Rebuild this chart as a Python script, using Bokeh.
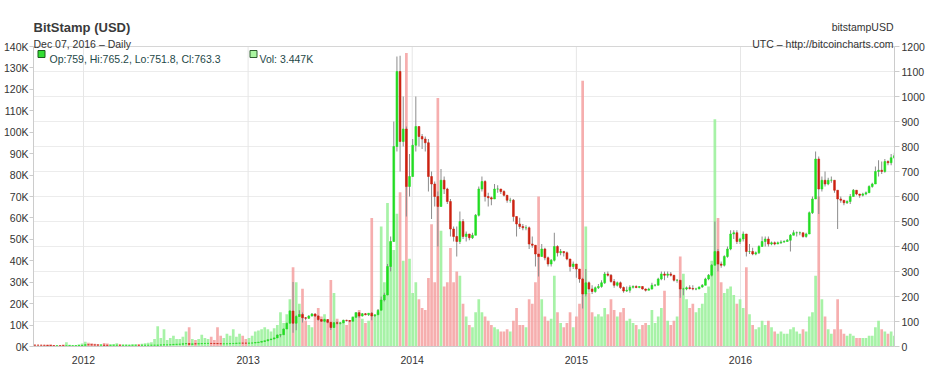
import pandas as pd
from bokeh.plotting import figure
from bokeh.models import Range1d, LinearAxis, FixedTicker, Label, ColumnDataSource, Span
from bokeh.embed import file_html
from bokeh.resources import INLINE

# ---------------- data (weekly) ----------------
first_week = "2011-09-12"
first_open = 5.8

close_2011 = [5.5, 5.3, 5.1, 4.9, 4.1, 3.3, 3.2, 3.3, 3.0, 2.3, 2.5, 2.9, 3.0, 3.2, 3.9, 4.7]
high_2011 = [6.0, 5.8, 5.4, 5.2, 5.0, 4.2, 3.6, 3.6, 3.3, 3.0, 2.7, 3.1, 3.2, 3.3, 4.0, 4.8]
low_2011 = [5.0, 4.9, 4.7, 4.6, 3.9, 2.9, 2.9, 3.0, 2.8, 2.1, 2.2, 2.5, 2.8, 3.0, 3.2, 3.9]
vol_2011 = [0.3, 0.4, 0.5, 0.6, 0.8, 1.0, 0.7, 0.5, 0.6, 0.9, 2.0, 0.8, 0.6, 0.7, 1.0, 1.4]

close_2012 = [6.9, 6.6, 6.3, 6.1, 5.6, 5.7, 4.9, 4.6, 4.9, 5.0, 5.2, 4.8, 4.9,
              4.9, 4.9, 5.0, 5.1, 5.0, 5.0, 5.0, 5.1, 5.2, 5.4, 5.7, 6.3, 6.6,
              6.7, 7.4, 8.5, 8.9, 9.4, 10.9, 11.6, 8.6, 10.6, 10.5, 11.1, 12.0, 12.2,
              12.4, 11.9, 11.7, 11.4, 10.8, 10.9, 11.1, 11.7, 12.3, 13.2, 13.5, 13.4, 13.3]
high_2012 = [7.2, 7.2, 6.9, 6.4, 6.2, 6.0, 5.8, 5.0, 5.0, 5.1, 5.5, 5.3, 5.0,
             5.0, 5.0, 5.1, 5.2, 5.1, 5.1, 5.1, 5.2, 5.3, 5.5, 5.9, 6.5, 6.8,
             6.8, 7.6, 8.9, 9.1, 9.6, 11.2, 13.5, 12.0, 10.8, 11.0, 11.3, 12.4, 12.5,
             12.8, 12.5, 12.0, 11.8, 11.5, 11.0, 11.3, 11.8, 12.5, 13.5, 13.8, 13.7, 13.6]
low_2012 = [4.8, 6.1, 5.9, 5.5, 5.4, 5.4, 4.4, 4.3, 4.6, 4.8, 4.9, 4.7, 4.7,
            4.8, 4.8, 4.9, 4.9, 4.9, 4.9, 4.9, 5.0, 5.1, 5.2, 5.4, 5.7, 6.2,
            6.5, 6.6, 7.3, 8.4, 8.6, 9.4, 10.8, 7.5, 8.5, 10.0, 10.4, 11.0, 11.9,
            12.0, 11.6, 11.5, 11.0, 10.4, 10.6, 10.8, 11.0, 11.7, 12.5, 13.0, 13.0, 13.1]
vol_2012 = [2.2, 1.8, 1.5, 1.3, 1.2, 1.0, 1.6, 1.4, 1.0, 1.2, 1.5, 1.1, 0.9,
            0.9, 0.8, 1.0, 1.1, 1.0, 1.3, 1.5, 1.8, 2.0, 3.5, 9.5, 4.0, 8.0,
            3.0, 4.0, 5.0, 3.5, 3.5, 4.5, 7.0, 9.0, 3.5, 3.0, 3.5, 5.5, 4.0,
            3.5, 4.5, 3.0, 9.0, 5.0, 4.0, 6.0, 5.0, 8.0, 4.5, 6.0, 5.0, 3.5]

close_2013 = [13.6, 14.2, 15.6, 17.5, 20.4, 22.7, 27.3, 30.0, 34.5, 46.0, 46.9, 70.0, 93.0,
              142, 93, 120, 128, 115, 113, 122, 130, 122, 108, 101, 108, 97,
              76, 95, 93, 95, 105, 104, 101, 117, 135, 122, 131, 127, 133, 122,
              127, 145, 186, 206, 320, 420, 800, 1100, 820, 870, 640, 680, 805]
high_2013 = [13.8, 14.5, 16.0, 18.0, 20.8, 23.0, 27.6, 30.5, 35.0, 48.0, 48.5, 72.0, 95.0,
             145, 258, 125, 145, 136, 118, 125, 134, 133, 125, 110, 111, 108,
             97, 98, 100, 97, 107, 107, 106, 119, 137, 138, 134, 134, 134, 138,
             128, 150, 200, 215, 330, 440, 900, 1160, 1163, 1000, 880, 770, 830]
low_2013 = [13.2, 13.5, 14.0, 15.5, 17.4, 19.8, 22.6, 26.5, 29.5, 34.0, 37.0, 47.0, 70.0,
            93, 55, 65, 118, 96, 105, 110, 120, 118, 103, 99, 97, 93,
            66, 75, 88, 88, 93, 100, 97, 100, 115, 115, 120, 125, 122, 105,
            118, 127, 145, 180, 205, 300, 460, 780, 700, 800, 520, 600, 680]
vol_2013 = [4.0, 5.0, 7.0, 7.5, 8.0, 9.0, 8.0, 7.0, 8.5, 10.0, 16.0, 11.0, 15.0,
            22, 37, 30, 20, 27, 12, 10, 9, 15, 18, 14, 15, 12,
            31, 25, 13, 11, 12, 10, 12, 14, 16, 17, 13, 11, 12, 60,
            14, 16, 56, 30, 67, 49, 45, 62, 72, 40, 137, 41, 25]

close_2014 = [880, 840, 830, 815, 680, 650, 600, 560, 665, 630, 580, 470, 440,
              420, 500, 440, 450, 435, 445, 525, 630, 660, 600, 595, 590, 630,
              630, 620, 605, 585, 585, 520, 490, 480, 475, 475, 410, 405, 370,
              360, 390, 355, 330, 345, 400, 375, 380, 375, 350, 320, 330, 310]
high_2014 = [1000, 880, 850, 840, 830, 700, 660, 620, 710, 680, 635, 590, 480,
             480, 540, 510, 460, 450, 455, 530, 640, 680, 665, 615, 600, 650,
             645, 630, 625, 600, 595, 590, 520, 515, 490, 485, 480, 440, 395,
             370, 410, 395, 360, 350, 455, 405, 390, 380, 380, 350, 340, 330]
low_2014 = [780, 800, 790, 780, 620, 510, 560, 400, 560, 610, 570, 440, 420,
            360, 410, 430, 420, 425, 430, 445, 520, 620, 580, 560, 565, 590,
            615, 610, 600, 575, 575, 500, 440, 470, 465, 465, 390, 395, 320,
            280, 360, 345, 320, 320, 340, 360, 365, 360, 345, 300, 310, 275]
vol_2014 = [30, 22, 18, 17, 32, 57, 30, 116, 54, 28, 30, 46, 30,
            35, 33, 20, 14, 10, 9, 16, 22, 16, 14, 12, 10, 9,
            8, 7, 7, 8, 7, 12, 18, 10, 10, 9, 22, 20, 30,
            70, 22, 14, 12, 13, 33, 16, 11, 9, 11, 16, 9, 14]

close_2015 = [270, 210, 255, 230, 220, 235, 240, 255, 290, 285, 260, 245, 255,
              236, 222, 225, 237, 240, 236, 240, 230, 225, 230, 245, 245, 270,
              290, 285, 290, 285, 265, 265, 230, 230, 235, 232, 230, 230, 238,
              245, 270, 285, 325, 380, 330, 325, 360, 390, 450, 455, 420, 430]
high_2015 = [300, 275, 310, 260, 245, 240, 250, 265, 298, 300, 290, 270, 260,
             260, 240, 240, 245, 245, 245, 242, 240, 232, 235, 255, 250, 275,
             300, 300, 300, 298, 285, 270, 265, 235, 240, 245, 245, 235, 240,
             250, 275, 290, 330, 500, 390, 340, 365, 400, 465, 465, 465, 435]
low_2015 = [255, 152, 200, 215, 210, 215, 230, 235, 250, 280, 255, 235, 240,
            230, 215, 218, 215, 232, 233, 233, 228, 220, 225, 228, 240, 245,
            265, 265, 275, 280, 260, 255, 195, 205, 225, 228, 225, 225, 230,
            235, 245, 265, 280, 330, 300, 315, 320, 355, 385, 430, 410, 410]
vol_2015 = [20, 124, 56, 25, 16, 14, 15, 14, 18, 15, 22, 17, 14,
            16, 18, 12, 13, 11, 10, 8, 10, 11, 10, 17, 11, 14,
            18, 26, 12, 10, 12, 14, 42, 34, 22, 18, 20, 16, 18,
            20, 25, 28, 40, 106, 60, 30, 25, 27, 28, 24, 20, 22]

close_2016 = [450, 380, 380, 370, 375, 400, 420, 430, 410, 415, 410, 415, 418,
              420, 425, 445, 455, 455, 455, 440, 450, 535, 590, 750, 630, 665,
              650, 665, 665, 625, 590, 585, 575, 580, 600, 625, 610, 605, 610,
              615, 640, 650, 700, 705, 700, 740, 735, 755, 763]
high_2016 = [460, 450, 410, 395, 380, 405, 440, 440, 440, 420, 420, 420, 425,
             425, 430, 450, 465, 460, 460, 455, 455, 540, 600, 780, 760, 680,
             700, 675, 680, 665, 625, 600, 585, 585, 610, 630, 625, 610, 615,
             620, 645, 655, 720, 745, 740, 750, 745, 770, 775]
low_2016 = [420, 360, 370, 365, 365, 370, 400, 400, 400, 405, 405, 410, 410,
            415, 420, 380, 445, 440, 445, 435, 435, 450, 530, 590, 530, 620,
            640, 645, 655, 615, 470, 575, 565, 570, 570, 600, 605, 595, 600,
            605, 615, 635, 650, 680, 690, 695, 725, 725, 751]
vol_2016 = [18, 37, 15, 10, 8, 9, 12, 10, 12, 9, 7, 6, 7,
            6, 6, 8, 9, 7, 6, 8, 7, 14, 16, 33, 70, 22,
            14, 8, 6, 8, 22, 8, 6, 5, 6, 5, 4, 4, 4,
            4, 5, 5, 9, 12, 8, 7, 6, 7, 5]

year_ticks = ["2012-01-01", "2013-01-01", "2014-01-01", "2015-01-01", "2016-01-01"]
year_labels = ["2012", "2013", "2014", "2015", "2016"]
vol_ticks = list(range(0, 141, 10))          # thousands
price_ticks = list(range(0, 1201, 100))
VOL_MAX, PRICE_MAX = 140, 1200

last_op, last_hi, last_lo, last_cl = 759, 765.2, 751.8, 763.3
last_vol = "3.447K"
title_text = "BitStamp (USD)"
subtitle_text = "Dec 07, 2016 \u2013 Daily"
symbol_text = "bitstampUSD"
source_text = "UTC \u2013 http://bitcoincharts.com"

# ---------------- assemble ----------------
close = close_2011 + close_2012 + close_2013 + close_2014 + close_2015 + close_2016
high = high_2011 + high_2012 + high_2013 + high_2014 + high_2015 + high_2016
low = low_2011 + low_2012 + low_2013 + low_2014 + low_2015 + low_2016
vol = vol_2011 + vol_2012 + vol_2013 + vol_2014 + vol_2015 + vol_2016
opens = [first_open] + close[:-1]

DAY = 86400000.0
weeks = pd.date_range(first_week, periods=len(close), freq="7D")
xs = [w.value / 1e6 + 3 * DAY for w in weeks]
up = [c >= o for o, c in zip(opens, close)]
hi = [max(h, o, c) for h, o, c in zip(high, opens, close)]
lo = [min(l, o, c) for l, o, c in zip(low, opens, close)]

src = ColumnDataSource(dict(
    x=xs, open=opens, close=close, high=hi, low=lo, vol=vol,
    top=[max(o, c) for o, c in zip(opens, close)],
    bottom=[min(o, c) for o, c in zip(opens, close)],
    body_color=["#22dd22" if u else "#cc2211" for u in up],
    vol_color=["#98f098" if u else "#f4a0a0" for u in up],
))

# page geometry (reference): chart box 36..897 x 47..347; figure starts at page y=1
PX_LEFT, PX_RIGHT, PY_TOP, PY_BOTTOM, PAGE_TOP = 36, 897, 47, 347, 1
FRAME_H = PY_BOTTOM - PAGE_TOP
BOX_H = PY_BOTTOM - PY_TOP
ms_2012 = pd.Timestamp("2012-01-01").value / 1e6
ms_2016 = pd.Timestamp("2016-01-01").value / 1e6
ms_per_px = (ms_2016 - ms_2012) / (743 - 86)
x_start = ms_2012 - (86 - PX_LEFT) * ms_per_px
x_end = ms_2016 + (PX_RIGHT - 743) * ms_per_px

def xd(px):
    return x_start + (px - PX_LEFT) * ms_per_px

def yv(py):
    return (PY_BOTTOM - py) / BOX_H * VOL_MAX

FONT = "Liberation Sans"
p = figure(frame_width=PX_RIGHT - PX_LEFT, frame_height=FRAME_H, x_axis_type="datetime",
           x_range=Range1d(x_start, x_end),
           y_range=Range1d(0, VOL_MAX * FRAME_H / BOX_H),
           output_backend="svg", toolbar_location=None, title_location=None,
           min_border_left=28, min_border_right=27, min_border_top=0, min_border_bottom=4)
p.extra_y_ranges = {"price": Range1d(0, PRICE_MAX * FRAME_H / BOX_H)}
p.outline_line_color = None
p.background_fill_color = "white"
p.border_fill_color = "white"

# axes
ya = p.yaxis[0]
ya.ticker = FixedTicker(ticks=vol_ticks)
ya.bounds = (0, VOL_MAX)
ya.major_label_overrides = {t: f"{t}K" for t in vol_ticks}
ya.minor_tick_line_color = None
ya.axis_line_color = "#cccccc"
ya.major_tick_line_color = "#cccccc"
ya.major_tick_out = 4
ya.major_tick_in = 0
ya.major_label_standoff = 1
ya.major_label_text_font = FONT
ya.major_label_text_font_size = "10.5px"
ya.major_label_text_color = "#333333"

ra = LinearAxis(y_range_name="price", ticker=FixedTicker(ticks=price_ticks), bounds=(0, PRICE_MAX))
ra.minor_tick_line_color = None
ra.axis_line_color = "#cccccc"
ra.major_tick_line_color = "#cccccc"
ra.major_tick_out = 5
ra.major_tick_in = 0
ra.major_label_standoff = 2
ra.major_label_text_font = FONT
ra.major_label_text_font_size = "10.5px"
ra.major_label_text_color = "#333333"
p.add_layout(ra, "right")

year_ms = [pd.Timestamp(t).value / 1e6 for t in year_ticks]
xa = p.xaxis[0]
xa.ticker = FixedTicker(ticks=year_ms)
xa.major_label_overrides = {m: l for m, l in zip(year_ms, year_labels)}
xa.minor_tick_line_color = None
xa.major_tick_line_color = None
xa.axis_line_color = "#cccccc"
xa.major_label_standoff = 3
xa.major_label_text_font = FONT
xa.major_label_text_font_size = "10.5px"
xa.major_label_text_color = "#333333"

# grid: horizontal lines follow the price axis, vertical lines at the years (inside the box only)
p.xgrid.visible = False
p.ygrid.ticker = FixedTicker(ticks=[t * VOL_MAX / PRICE_MAX for t in price_ticks])
p.ygrid.grid_line_color = "#ececec"
p.segment(x0=year_ms, y0=[0] * len(year_ms), x1=year_ms, y1=[VOL_MAX] * len(year_ms),
          line_color="#e6e6e6", line_width=1)
p.add_layout(Span(location=VOL_MAX, dimension="width", line_color="#d6d6d6", line_width=1))

# volume
p.vbar(x="x", top="vol", bottom=0, width=6 * DAY, source=src,
       fill_color="vol_color", line_color=None, fill_alpha=0.85)

# candles
p.segment(x0="x", y0="high", x1="x", y1="low", source=src, y_range_name="price",
          line_color="#8c8c8c", line_width=1)
p.vbar(x="x", top="top", bottom="bottom", width=4 * DAY, source=src, y_range_name="price",
       fill_color="body_color", line_color="body_color", line_width=0.6)

# header texts
def add_text(px, py, text, size="10.5px", style="normal", color="#333333", align="left"):
    p.add_layout(Label(x=xd(px), y=yv(py), text=text, text_font=FONT,
                       text_font_size=size, text_font_style=style, text_color=color,
                       text_align=align, text_baseline="alphabetic"))

add_text(36, 28, title_text, size="13px", style="bold", color="#3a3a3a")
add_text(36, 44, subtitle_text)
add_text(896, 27, symbol_text, align="right")
add_text(896, 44, source_text, align="right")

# legend row
p.scatter(x=[xd(44)], y=[yv(54.5)], marker="square", size=7,
          fill_color="#33dd33", line_color="#1d5a1d", line_width=1)
p.scatter(x=[xd(256)], y=[yv(54.5)], marker="square", size=7,
          fill_color="#aaf5a0", line_color="#2f5f2f", line_width=1)
add_text(52, 59.5, f"Op:{last_op}, Hi:{last_hi}, Lo:{last_lo}, Cl:{last_cl}", color="#1e4848")
add_text(262, 59.5, f"Vol: {last_vol}", color="#1e4848")

open("out.html", "w").write(file_html(p, INLINE))
